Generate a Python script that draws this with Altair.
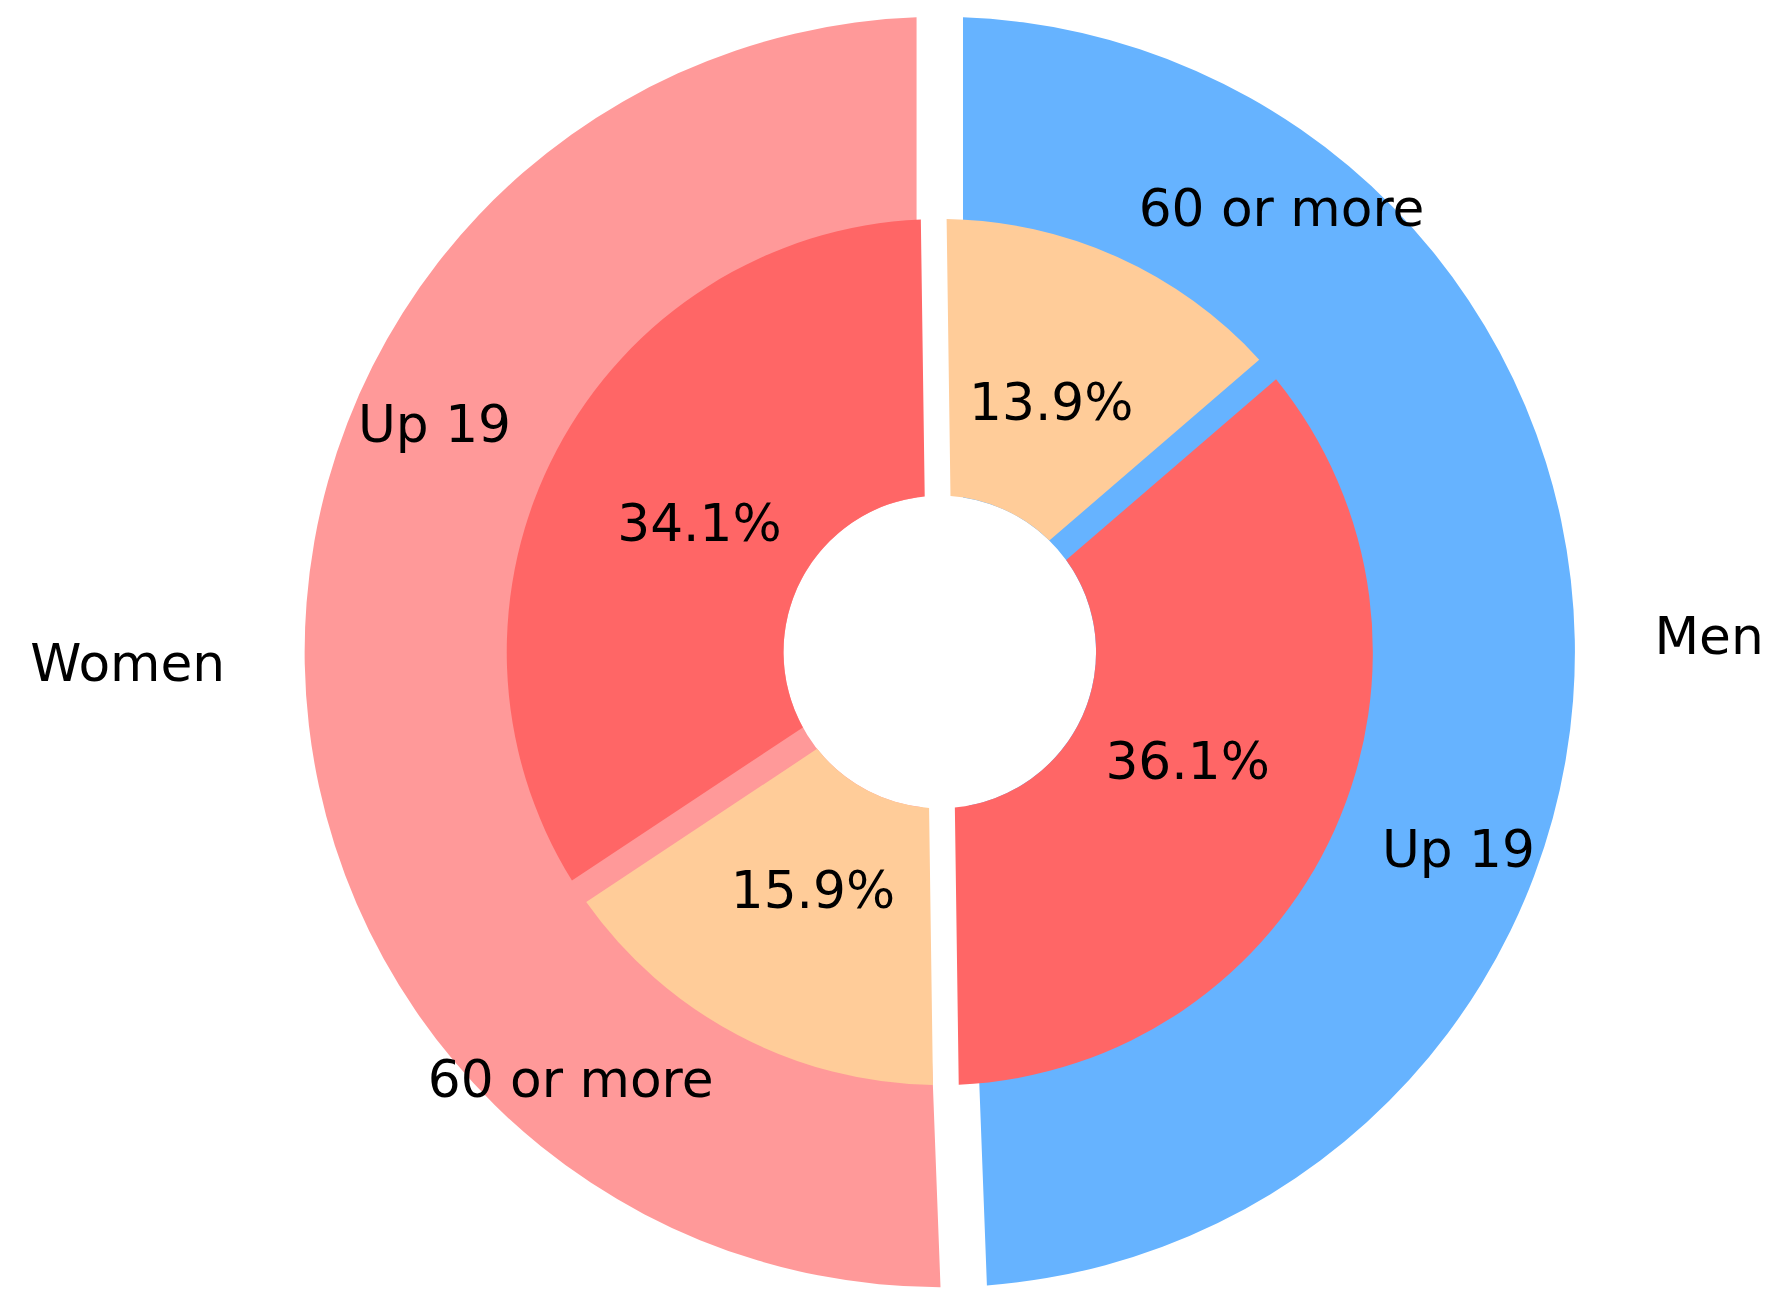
import math
import altair as alt
import pandas as pd

# ---- data ----
outer_labels = ["Men", "Women"]
outer_values = [49.4, 50.6]
outer_colors = ["#66b3ff", "#ff9999"]

inner_groups = ["Men", "Men", "Women", "Women"]
inner_labels = ["60 or more", "Up 19", "60 or more", "Up 19"]
inner_values = [13.9, 36.1, 15.9, 34.1]
inner_colors = ["#ffcc99", "#ff6666", "#ffcc99", "#ff6666"]

outer_df = pd.DataFrame({"label": outer_labels, "value": outer_values,
                         "color": outer_colors, "order": range(len(outer_labels))})
inner_df = pd.DataFrame({"group": inner_groups, "label": inner_labels,
                         "value": inner_values, "color": inner_colors,
                         "order": range(len(inner_labels))})

CX, CY = 936, 644
R_OUT, R_HOLE, R_IN = 638, 157, 435
FONT = "DejaVu Sans"
FS = 52
TWO_PI = 2 * math.pi

outer_rot = 0.0
inner_rot = TWO_PI - 0.014


def prep(df):
    return (alt.Chart(df)
            .transform_window(cum="sum(value)", sort=[alt.SortField("order")])
            .transform_calculate(start="datum.cum - datum.value",
                                 mid="datum.cum - datum.value / 2"))


def tscale(rot):
    return alt.Scale(domain=[0, 100], range=[rot, rot + TWO_PI])


xo = alt.value(CX)
yo = alt.value(CY)

# outer ring
outer_base = prep(outer_df)
outer_arc = outer_base.mark_arc(outerRadius=R_OUT, innerRadius=R_HOLE,
                                padAngle=0.071).encode(
    theta=alt.Theta("start:Q", scale=tscale(outer_rot)),
    theta2="cum:Q",
    color=alt.Color("color:N", scale=None),
    x=xo, y=yo,
)
outer_text_r = outer_base.transform_filter("datum.mid < 50").mark_text(
    radius=718, align="left", baseline="middle", font=FONT, fontSize=FS,
    color="black").encode(
    theta=alt.Theta("mid:Q", scale=tscale(outer_rot)), text="label:N", x=xo, y=yo)
outer_text_l = outer_base.transform_filter("datum.mid >= 50").mark_text(
    radius=718, align="right", baseline="middle", font=FONT, fontSize=FS,
    color="black").encode(
    theta=alt.Theta("mid:Q", scale=tscale(outer_rot)), text="label:N", x=xo, y=yo)

# inner ring
inner_base = prep(inner_df)
inner_arc = inner_base.mark_arc(outerRadius=R_IN, innerRadius=R_HOLE,
                                padAngle=0.056).encode(
    theta=alt.Theta("start:Q", scale=tscale(inner_rot)),
    theta2="cum:Q",
    color=alt.Color("color:N", scale=None),
    x=xo, y=yo,
)
inner_pct = inner_base.transform_calculate(
    pct="format(datum.value, '.1f') + '%'").mark_text(
    radius=273, align="center", baseline="middle", font=FONT, fontSize=FS,
    color="black").encode(
    theta=alt.Theta("mid:Q", scale=tscale(inner_rot)), text="pct:N", x=xo, y=yo)
inner_lab_r = inner_base.transform_filter("datum.mid < 50").mark_text(
    radius=487, align="left", baseline="middle", font=FONT, fontSize=FS,
    color="black").encode(
    theta=alt.Theta("mid:Q", scale=tscale(inner_rot)), text="label:N", x=xo, y=yo)
inner_lab_l = inner_base.transform_filter("datum.mid >= 50").mark_text(
    radius=487, align="right", baseline="middle", font=FONT, fontSize=FS,
    color="black").encode(
    theta=alt.Theta("mid:Q", scale=tscale(inner_rot)), text="label:N", x=xo, y=yo)

outer_layer = alt.layer(outer_arc, outer_text_r, outer_text_l)
inner_layer = alt.layer(inner_arc, inner_pct, inner_lab_r, inner_lab_l)

chart = alt.layer(outer_layer, inner_layer).resolve_scale(
    theta="independent").properties(
    width=1776, height=1295,
    autosize=alt.AutoSizeParams(type="none"),
    padding=0,
    background="white",
).configure_view(stroke=None)

chart.save("out.html", embed_options={"renderer": "svg", "actions": False})
